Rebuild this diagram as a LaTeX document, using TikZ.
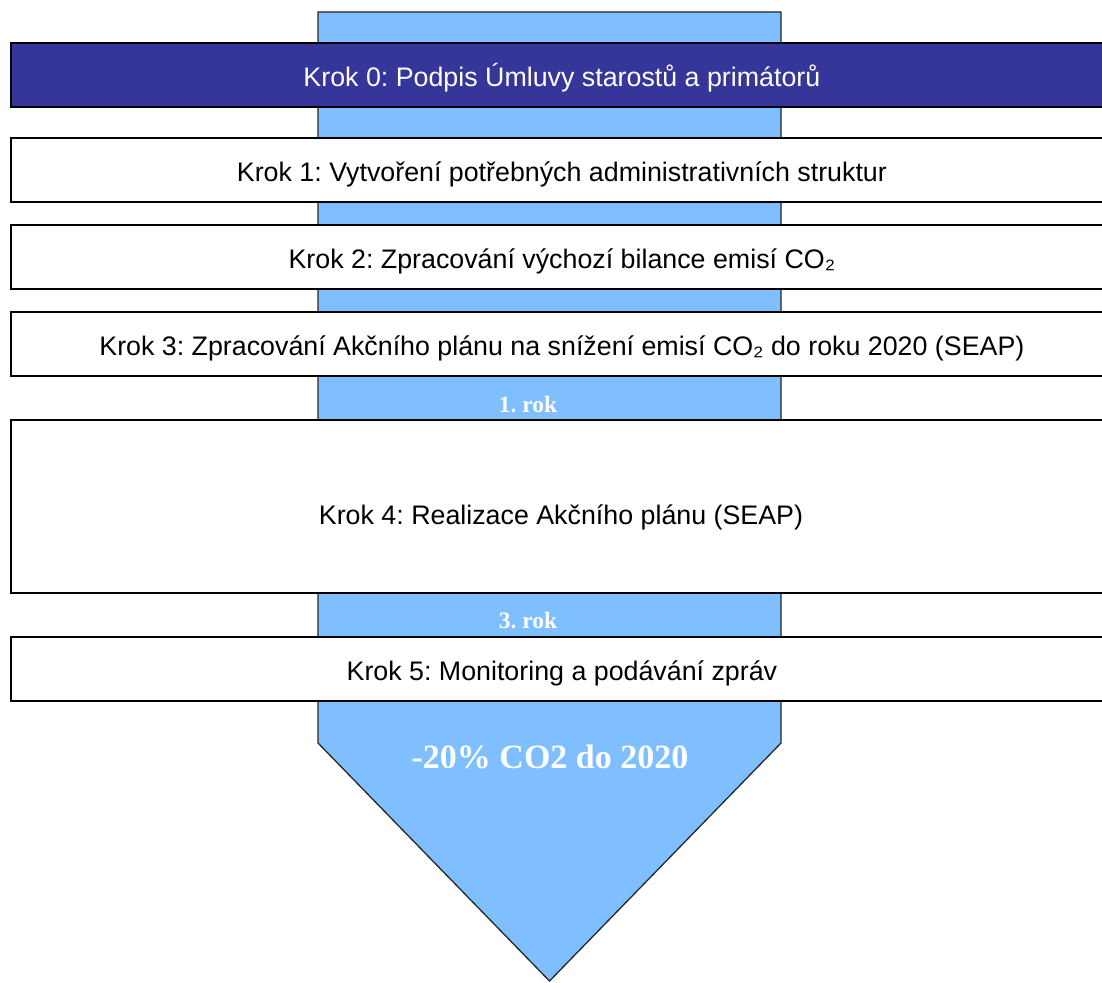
\documentclass[tikz,border=0pt]{standalone}
\usepackage{fontspec}
\setmainfont{Liberation Sans}
\newfontfamily\timesfont{Liberation Serif}
\definecolor{kroknavy}{HTML}{35359A}
\definecolor{arrowblue}{HTML}{80BFFF}
\frenchspacing
\tikzset{
  steptext/.style={inner sep=0pt, text height=24pt, text depth=0pt,
    font=\fontsize{26.8}{32}\selectfont},
  stepbox/.style={steptext, draw=black, line width=1.8pt, fill=white,
    anchor=north west, minimum width=1102pt},
  yearlabel/.style={text=white, inner sep=0pt, font=\timesfont\bfseries\fontsize{23.5}{28}\selectfont},
}
\begin{document}
\begin{tikzpicture}[x=1pt, y=-1pt]
  \useasboundingbox (0,0) rectangle (1102,982);
  \clip (0,0) rectangle (1102,982);
  % big downward arrow behind the steps
  \draw[fill=arrowblue, draw=black!85, line width=1.3pt, line join=miter]
    (318,12) -- (781,12) -- (781,743) -- (549.5,981) -- (318,743) -- cycle;
  % steps
  \node[stepbox, fill=kroknavy, text=white, minimum height=64pt] (k0) at (10,42)
    {Krok 0: Podpis Úmluvy starostů a primátorů};
  \node[stepbox, minimum height=64pt] (k1) at (10,137)
    {Krok 1: Vytvoření potřebných administrativních struktur};
  \node[stepbox, minimum height=64pt] (k2) at (10,224)
    {Krok 2: Zpracování výchozí bilance emisí CO₂};
  \node[stepbox, minimum height=64pt] (k3) at (10,311)
    {Krok 3: Zpracování Akčního plánu na snížení emisí CO₂ do roku 2020 (SEAP)};
  \node[stepbox, minimum height=173pt] (k4) at (10,419) {};
  \node[steptext] (k4t) at (561,512.5)
    {Krok 4: Realizace Akčního plánu (SEAP)};
  \node[stepbox, minimum height=64pt] (k5) at (10,636)
    {Krok 5: Monitoring a podávání zpráv};
  % labels on the arrow
  \node[yearlabel] (r1) at (528,405) {1. rok};
  \node[yearlabel] (r3) at (528,621) {3. rok};
  \node[text=white, inner sep=0pt, font=\timesfont\bfseries\fontsize{34}{40}\selectfont]
    (goal) at (550,757) {-20\% CO2 do 2020};
\end{tikzpicture}
\end{document}
